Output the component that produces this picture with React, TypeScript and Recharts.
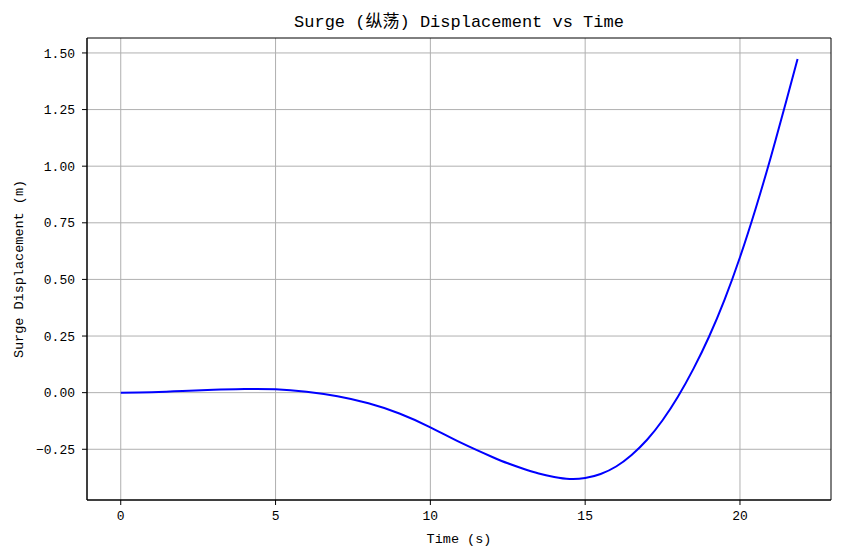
import {
  LineChart, Line, XAxis, YAxis, CartesianGrid, ReferenceArea, Label,
} from 'recharts'

const times = [
  0, 1, 2, 3, 4, 5, 6, 7, 8, 9, 10, 11, 12, 12.5, 13, 13.5, 14, 14.5, 15, 15.5,
  16, 16.5, 17, 17.5, 18, 18.5, 19, 19.5, 20, 20.5, 21, 21.5, 21.86,
]
const surge = [
  0, 0.002, 0.007, 0.013, 0.016, 0.015, 0.004, -0.016, -0.047, -0.092, -0.153,
  -0.222, -0.284, -0.312, -0.336, -0.357, -0.372, -0.381, -0.377, -0.359,
  -0.326, -0.275, -0.208, -0.122, -0.017, 0.106, 0.247, 0.41, 0.598, 0.81,
  1.042, 1.29, 1.473,
]
const xTicks = [0, 5, 10, 15, 20]
const yTicks = [-0.25, 0, 0.25, 0.5, 0.75, 1.0, 1.25, 1.5]

const data = times.map((t, i) => ({ t, v: surge[i] }))

const FONT = '"Liberation Mono", "Noto Sans CJK SC", monospace'
const X_DOM: [number, number] = [-1.09, 22.94]
const Y_DOM: [number, number] = [-0.474, 1.566]

const fmtY = (v: number) => {
  const s = Math.abs(v).toFixed(2)
  return v < 0 ? `\u2212${s}` : s
}

const tickStyle = { fill: '#000', fontSize: 13, fontFamily: FONT }
const labelStyle = { fill: '#000', fontSize: 13.5, fontFamily: FONT }

export default function App() {
  return (
    <div style={{ position: 'absolute', left: 0, top: 0, width: 842, height: 558, background: '#fff', fontFamily: FONT }}>
      <div style={{
        position: 'absolute', left: 87, width: 744, top: 12, textAlign: 'center',
        fontSize: 17, lineHeight: '22px', color: '#000',
      }}>
        Surge (纵荡) Displacement vs Time
      </div>
      <LineChart width={842} height={558} data={data}
        margin={{ top: 38, right: 11, bottom: 0, left: 0 }}>
        <CartesianGrid stroke="#b0b0b0" strokeWidth={1} horizontalValues={yTicks} verticalValues={xTicks} />
        <XAxis dataKey="t" type="number" domain={X_DOM} ticks={xTicks} allowDataOverflow
          height={58} tickSize={5} tickMargin={6} tick={tickStyle}
          axisLine={{ stroke: '#000' }} tickLine={{ stroke: '#000' }}>
          <Label value="Time (s)" position="insideBottom" offset={15} style={labelStyle} />
        </XAxis>
        <YAxis type="number" domain={Y_DOM} ticks={yTicks} allowDataOverflow
          width={87} tickSize={5} tickMargin={7} tickFormatter={fmtY} tick={tickStyle}
          axisLine={{ stroke: '#000' }} tickLine={{ stroke: '#000' }}>
          <Label value="Surge Displacement (m)" angle={-90} position="insideLeft" offset={18}
            style={{ ...labelStyle, textAnchor: 'middle' }} />
        </YAxis>
        <Line dataKey="v" type="natural" stroke="#0000ff" strokeWidth={2}
          dot={false} activeDot={false} isAnimationActive={false} />
        <ReferenceArea x1={X_DOM[0]} x2={X_DOM[1]} y1={Y_DOM[0]} y2={Y_DOM[1]}
          fill="none" stroke="#000" strokeWidth={1} ifOverflow="visible" />
      </LineChart>
    </div>
  )
}
